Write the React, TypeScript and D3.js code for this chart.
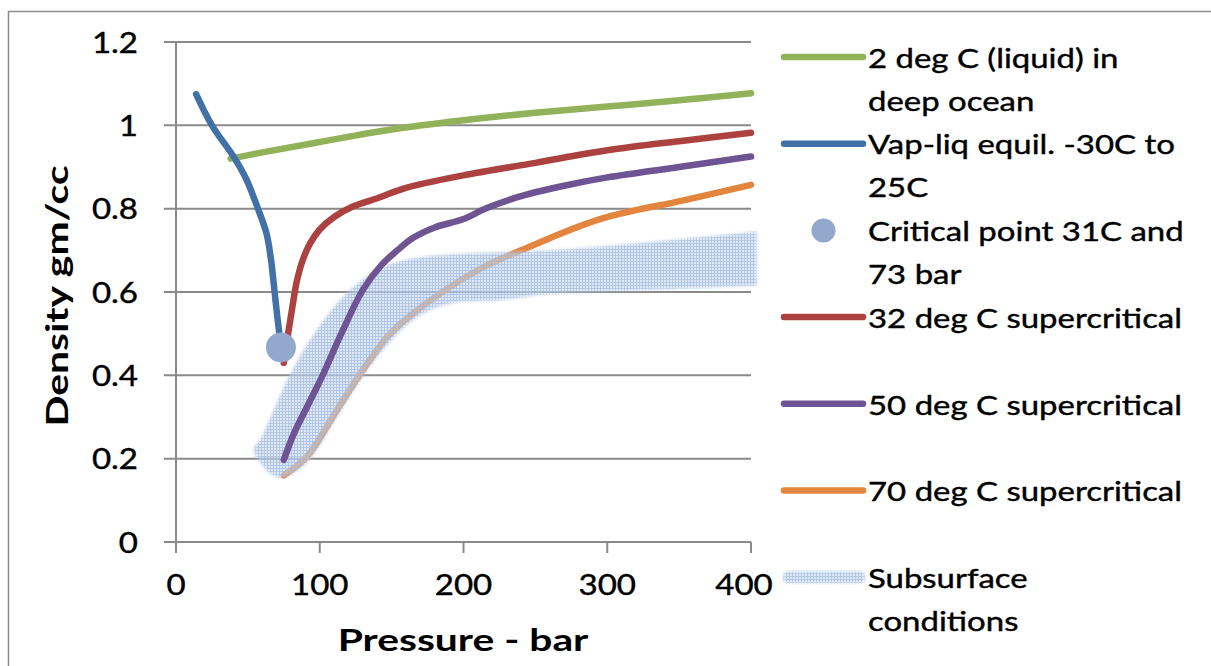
import React from "react";
import * as d3 from "d3";

// ---- data ----
const xTicks = [0, 100, 200, 300, 400];
const yTicks = [0, 0.2, 0.4, 0.6, 0.8, 1, 1.2];

const greenP = [38, 60, 100, 150, 200, 250, 300, 350, 400];
const greenD = [0.92, 0.935, 0.96, 0.99, 1.012, 1.03, 1.045, 1.06, 1.077];

const blueP = [14, 25, 40, 49, 57, 63, 66, 68, 70.5, 73];
const blueD = [1.075, 1.0, 0.925, 0.87, 0.8, 0.74, 0.68, 0.62, 0.54, 0.47];

const critP = [73];
const critD = [0.467];

const redP = [75, 78, 81, 84, 88, 93, 100, 110, 123, 140, 160, 200, 250, 300, 350, 400];
const redD = [0.43, 0.5, 0.565, 0.625, 0.675, 0.715, 0.75, 0.78, 0.805, 0.825, 0.85, 0.88, 0.91, 0.94, 0.962, 0.982];

const purpleP = [75, 82, 92, 102, 115, 130, 143, 154, 165, 180, 200, 215, 240, 270, 300, 350, 400];
const purpleD = [0.197, 0.26, 0.33, 0.4, 0.5, 0.605, 0.665, 0.7, 0.73, 0.755, 0.775, 0.8, 0.83, 0.855, 0.875, 0.9, 0.925];

const orangeP = [75, 91, 112, 130, 149, 177, 214, 240, 295, 353, 400];
const orangeD = [0.16, 0.205, 0.317, 0.413, 0.5, 0.58, 0.66, 0.7, 0.775, 0.82, 0.857];

// subsurface band: left tip, upper edge, lower edge
const subTipP = [54];
const subTipD = [0.22];
const subUpperP = [60, 79, 98, 121, 144, 168, 214, 260, 330, 404];
const subUpperD = [0.255, 0.4, 0.51, 0.605, 0.66, 0.682, 0.694, 0.7, 0.72, 0.745];
const subLowerP = [60, 66, 75, 91, 112, 140, 168, 191, 225, 260, 330, 404];
const subLowerD = [0.185, 0.162, 0.155, 0.19, 0.3, 0.444, 0.54, 0.572, 0.58, 0.595, 0.605, 0.615];

const legendLabels = [
  ["2 deg C (liquid) in", "deep ocean"],
  ["Vap-liq equil. -30C to", "25C"],
  ["Critical point 31C and", "73 bar"],
  ["32 deg C supercritical"],
  ["50 deg C supercritical"],
  ["70 deg C supercritical"],
  ["Subsurface", "conditions"],
];

const COLORS = {
  green: "#92b25a",
  blue: "#4271a8",
  crit: "#93a8cd",
  red: "#ab4240",
  purple: "#6e5493",
  orange: "#e3853d",
};

const zip = (a: number[], b: number[]) => a.map((v, i) => [v, b[i]] as [number, number]);

export default function App() {
  const W = 1211;
  const H = 666;
  const x = d3.scaleLinear().domain([0, 400]).range([176, 751]);
  const y = d3.scaleLinear().domain([0, 1.2]).range([542, 42]);

  const line = d3
    .line<[number, number]>()
    .x((d) => x(d[0]))
    .y((d) => y(d[1]))
    .curve(d3.curveCatmullRom.alpha(0.5));

  const seriesUnder = [
    { p: greenP, d: greenD, c: COLORS.green },
    { p: blueP, d: blueD, c: COLORS.blue },
    { p: redP, d: redD, c: COLORS.red },
    { p: orangeP, d: orangeD, c: COLORS.orange },
  ];
  const seriesOver = [{ p: purpleP, d: purpleD, c: COLORS.purple }];

  const upper = zip(subUpperP, subUpperD);
  const lowerRev = zip(subLowerP, subLowerD).reverse();
  const tip = zip(subTipP, subTipD);
  const segA = line([lowerRev[lowerRev.length - 1], ...tip, ...upper]) || "";
  const segB = (line(lowerRev) || "").replace(/^M/, "L");
  const band = segA + segB + "Z";

  const font = "Lato, 'Open Sans', sans-serif";
  const tickSX = 1.18;
  const legSX = 1.22;
  const txtStroke = { stroke: "#000", strokeWidth: 0.4 };

  const legX0 = 784;
  const legX1 = 863;
  const legTop = 57;
  const legStep = 86.7;
  const lineH = 43;
  const legendKinds = ["green", "blue", "crit", "red", "purple", "orange", "band"];

  const drawSeries = (arr: { p: number[]; d: number[]; c: string }[], k: string) =>
    arr.map((s, i) => (
      <path
        key={k + i}
        d={line(zip(s.p, s.d)) || ""}
        fill="none"
        stroke={s.c}
        strokeWidth={6.5}
        strokeLinecap="round"
        strokeLinejoin="round"
      />
    ));

  return (
    <svg
      width={W}
      height={H}
      style={{ position: "absolute", left: 0, top: 0, background: "#fff" }}
      fontFamily={font}
    >
      <defs>
        <pattern id="dots" width="3" height="3" patternUnits="userSpaceOnUse">
          <rect width="3" height="3" fill="#c8d8ee" fillOpacity={0.6} />
          <rect x="0" y="0" width="3" height="1" fill="#9bb5da" fillOpacity={0.65} />
          <rect x="0" y="1" width="1" height="2" fill="#9bb5da" fillOpacity={0.65} />
        </pattern>
        <filter id="soft" x="-10%" y="-10%" width="120%" height="120%">
          <feGaussianBlur stdDeviation="1.5" />
        </filter>
        <mask id="bandMask" maskUnits="userSpaceOnUse" x="0" y="0" width={W} height={H}>
          <path d={band} fill="#fff" filter="url(#soft)" />
        </mask>
        <mask id="legMask" maskUnits="userSpaceOnUse" x="0" y="0" width={W} height={H}>
          <rect x={legX0 - 1} y={legTop + 6 * legStep - 6} width={legX1 - legX0 + 3} height={12} rx={5} fill="#fff" filter="url(#soft)" />
        </mask>
      </defs>
      <rect width={W} height={H} fill="#fff" />
      {/* outer frame */}
      <rect x={8.5} y={11.5} width={1230} height={700} fill="none" stroke="#8c8c8c" strokeWidth={1.5} />

      {/* gridlines */}
      {yTicks.map((t) => (
        <line key={"g" + t} x1={164} x2={751} y1={y(t)} y2={y(t)} stroke="#8a8a8a" strokeWidth={2} />
      ))}
      {/* y axis */}
      <line x1={176} x2={176} y1={y(1.2)} y2={553} stroke="#8a8a8a" strokeWidth={2} />
      {/* x ticks */}
      {xTicks.map((t) => (
        <line key={"xt" + t} x1={x(t)} x2={x(t)} y1={542} y2={553} stroke="#8a8a8a" strokeWidth={2} />
      ))}

      {/* tick labels */}
      {yTicks.map((t) => (
        <text
          key={"yl" + t}
          transform={`translate(138,${y(t)}) scale(${tickSX},1)`}
          textAnchor="end"
          dominantBaseline="central"
          fontSize={28}
          fill="#000"
          {...txtStroke}
        >
          {String(t)}
        </text>
      ))}
      {xTicks.map((t) => (
        <text
          key={"xl" + t}
          transform={`translate(${t === 400 ? x(t) - 7 : x(t)},584) scale(${tickSX},1)`}
          textAnchor="middle"
          dominantBaseline="central"
          fontSize={28}
          fill="#000"
          {...txtStroke}
        >
          {String(t)}
        </text>
      ))}

      {/* axis titles */}
      <text
        transform={`translate(57,296) rotate(-90) scale(1.36,1)`}
        textAnchor="middle"
        dominantBaseline="central"
        fontSize={30}
        fontWeight="bold"
      >
        Density gm/cc
      </text>
      <text
        transform={`translate(463,640) scale(1.36,1)`}
        textAnchor="middle"
        dominantBaseline="central"
        fontSize={30}
        fontWeight="bold"
      >
        Pressure - bar
      </text>

      {/* series lines under the band */}
      {drawSeries(seriesUnder, "u")}

      {/* subsurface band */}
      <rect x={0} y={0} width={W} height={H} fill="url(#dots)" mask="url(#bandMask)" />

      {/* series over the band */}
      {drawSeries(seriesOver, "o")}

      {/* critical point */}
      {critP.map((p, i) => (
        <circle key={"c" + i} cx={x(p)} cy={y(critD[i])} r={15} fill={COLORS.crit} />
      ))}

      {/* legend */}
      {legendLabels.map((lines, i) => {
        const cy = legTop + i * legStep;
        const kind = legendKinds[i];
        let sw: React.ReactNode = null;
        if (kind === "crit") {
          sw = <circle cx={(legX0 + legX1) / 2} cy={cy} r={12} fill={COLORS.crit} />;
        } else if (kind === "band") {
          sw = <rect x={legX0 - 4} y={cy - 10} width={legX1 - legX0 + 9} height={20} fill="url(#dots)" mask="url(#legMask)" />;
        } else {
          sw = (
            <line
              x1={legX0}
              x2={legX1}
              y1={cy}
              y2={cy}
              stroke={(COLORS as any)[kind]}
              strokeWidth={6.5}
              strokeLinecap="round"
            />
          );
        }
        return (
          <g key={"lg" + i}>
            {sw}
            {lines.map((t, j) => (
              <text
                key={j}
                transform={`translate(868,${cy + j * lineH}) scale(${legSX},1)`}
                dominantBaseline="central"
                fontSize={27}
                fill="#000"
                {...txtStroke}
              >
                {t}
              </text>
            ))}
          </g>
        );
      })}
    </svg>
  );
}
